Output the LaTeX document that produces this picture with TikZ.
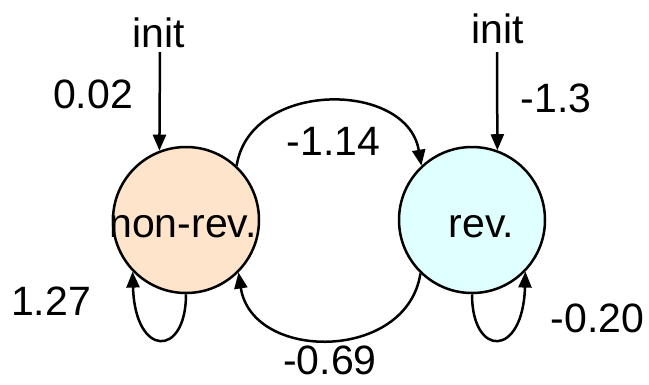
\documentclass[tikz,border=0pt]{standalone}
\usepackage{fontspec}
\setmainfont{Liberation Sans}
\usetikzlibrary{arrows.meta}
\definecolor{peach}{RGB}{255,228,204}
\definecolor{lcyan}{RGB}{224,255,255}
\begin{document}
\begin{tikzpicture}[x=1pt,y=-1pt,
  state/.style={circle,draw,line width=2.5pt,minimum size=146pt,inner sep=0pt},
  lbl/.style={anchor=base,inner sep=0pt,font=\fontsize{41}{49}\selectfont},
  edge/.style={line width=2.5pt,-{Triangle[length=16pt,width=13pt]}}]
\useasboundingbox (0,0) rectangle (649,384);
\node[state,fill=peach] (L) at (186,220) {};
\node[state,fill=lcyan] (R) at (472,220) {};
\node[lbl] (tL) at (183,237) {non-rev.};
\node[lbl] (tR) at (481.5,237) {rev.};
\node[lbl] (initL) at (158.5,47) {init};
\node[lbl] (initR) at (498,43) {init};
\node[lbl] (a) at (93,108) {0.02};
\node[lbl] (b) at (556,112) {-1.3};
\node[lbl] (c) at (333.5,155) {-1.14};
\node[lbl] (d) at (51,315) {1.27};
\node[lbl] (e) at (597.5,332) {-0.20};
\node[lbl] (f) at (330,374) {-0.69};
\coordinate (sL) at (160,52);
\coordinate (sR) at (497,52);
\draw[edge] (sL) -- (L.111);
\draw[edge] (sR) -- (R.70);
\draw[edge] (L.47) .. controls (250,80) and (407,80) .. (R.133);
\draw[edge] (R.226) .. controls (407,362) and (252,362) .. (L.-45);
\draw[edge] (L.270) .. controls (186,358) and (135,358) .. (L.224);
\draw[edge] (R.270) .. controls (472,358) and (523,358) .. (R.-44);
\end{tikzpicture}
\end{document}
